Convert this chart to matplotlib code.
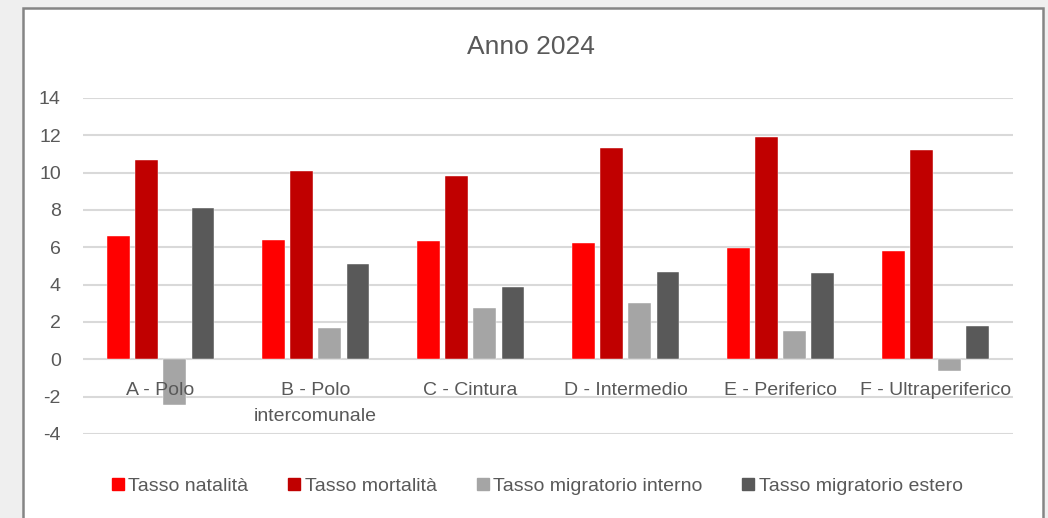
"""
Anno 2024: tassi demografici per tipologia di comune.
"""
import matplotlib
matplotlib.use("Agg")
import matplotlib.pyplot as plt
import numpy as np
from matplotlib.lines import Line2D
from matplotlib.patches import Rectangle

categories = ["A - Polo", "B - Polo\nintercomunale", "C - Cintura",
              "D - Intermedio", "E - Periferico", "F - Ultraperiferico"]
series_names = ["Tasso natalità", "Tasso mortalità",
                "Tasso migratorio interno", "Tasso migratorio estero"]
natalita = [6.6, 6.4, 6.35, 6.25, 5.95, 5.8]
mortalita = [10.7, 10.1, 9.8, 11.3, 11.9, 11.2]
migr_interno = [-2.45, 1.7, 2.75, 3.0, 1.5, -0.65]
migr_estero = [8.1, 5.1, 3.9, 4.7, 4.6, 1.8]
yticks = [-4, -2, 0, 2, 4, 6, 8, 10, 12, 14]

colors = ["#FF0000", "#C00000", "#A5A5A5", "#595959"]
text_color = "#595959"
fs = 14

plt.rcParams['font.family'] = ['Liberation Sans', 'DejaVu Sans']

fig = plt.figure(figsize=(10.48, 5.18), dpi=100)
fig.patch.set_facecolor("#efefef")

# white chart frame (as in the spreadsheet export), open at the bottom
W, H = 1048, 518
frame = Rectangle((22.5 / W, -0.05), (1042.5 - 22.5) / W, (H - 8) / H + 0.05,
                  transform=fig.transFigure, facecolor="white",
                  edgecolor="#858585", linewidth=1.8, zorder=0)
fig.patches.append(frame)

ax = fig.add_axes([83 / W, (H - 434) / H, 930 / W, 336 / H])
ax.set_zorder(2)
ax.set_facecolor("none")

x = np.arange(len(categories))
step = 0.182
width = 0.146
all_series = [natalita, mortalita, migr_interno, migr_estero]
for k, (vals, c) in enumerate(zip(all_series, colors)):
    ax.bar(x + (k - 1.5) * step, vals, width, color=c, zorder=3,
           edgecolor="white", linewidth=0.3)

ax.set_xlim(-0.5, len(categories) - 0.5)
ax.set_ylim(-4, 14)
ax.set_yticks(yticks)
ax.set_yticklabels([str(t) for t in yticks])
ax.tick_params(axis='y', length=0, pad=16, labelsize=fs, labelcolor=text_color)
ax.set_xticks([])
ax.grid(axis='y', color="#D9D9D9", linewidth=1.5, zorder=0)
for s in ax.spines.values():
    s.set_visible(False)

# category labels sit next to the zero line, drawn over the bars
for i, lab in enumerate(categories):
    ax.annotate(lab, xy=(i, 0), xytext=(0, -16), textcoords="offset points",
                ha='center', va='top', fontsize=fs, color=text_color,
                linespacing=1.7, zorder=5)

fig.text(531 / W, 1 - 47 / H, "Anno 2024", ha='center', va='center',
         fontsize=19, color=text_color)

handles = [Line2D([], [], marker='s', linestyle='none', markersize=9,
                  markerfacecolor=c, markeredgecolor=c) for c in colors]
fig.legend(handles, series_names, loc='center', ncol=4,
           bbox_to_anchor=(537 / W, 1 - 486 / H), frameon=False,
           fontsize=fs, labelcolor=text_color, handlelength=0.7,
           handletextpad=0.2, columnspacing=2.0, borderpad=0)

fig.savefig("out.png", dpi=100, facecolor=fig.get_facecolor())
